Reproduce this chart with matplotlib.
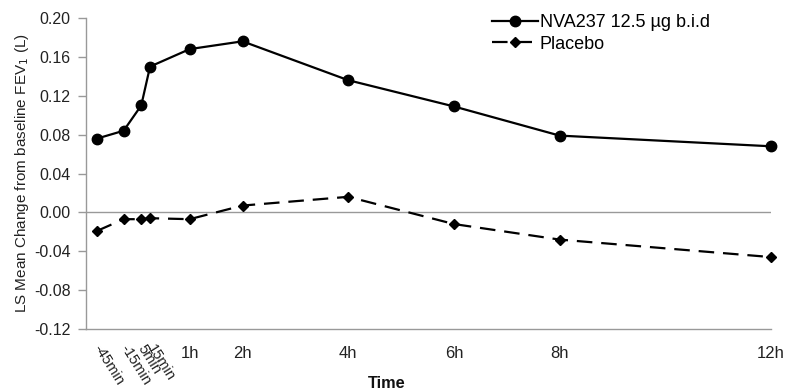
import matplotlib
matplotlib.use("Agg")
import matplotlib.pyplot as plt

plt.rcParams['font.family'] = ['Liberation Sans', 'DejaVu Sans']

times = [-0.75, -0.25, 5/60, 0.25, 1, 2, 4, 6, 8, 12]
tick_labels = ['-45min', '-15min', '5min', '15min', '1h', '2h', '4h', '6h', '8h', '12h']
nva = [0.076, 0.084, 0.110, 0.150, 0.168, 0.176, 0.136, 0.109, 0.079, 0.068]
placebo = [-0.019, -0.007, -0.007, -0.006, -0.007, 0.007, 0.016, -0.012, -0.028, -0.046]
yticks = [-0.12, -0.08, -0.04, 0.00, 0.04, 0.08, 0.12, 0.16, 0.20]

W, H = 788, 392
fig = plt.figure(figsize=(W / 100, H / 100), dpi=100)
ax = fig.add_axes([86 / W, 1 - 329 / H, 685 / W, 311 / H])

ax.axhline(0, color='#999999', lw=1.0, zorder=1)
ax.plot(times, nva, color='black', lw=1.6, marker='o', ms=7.5,
        label='NVA237 12.5 µg b.i.d', zorder=3, clip_on=False)
ax.plot(times, placebo, color='black', lw=1.6, ls=(0, (7, 4)), marker='D', ms=5,
        label='Placebo', zorder=3, clip_on=False)

ax.set_xlim(-0.962, 11.96)
ax.set_ylim(-0.12, 0.20)
ax.set_yticks(yticks)
ax.set_yticklabels([f'{v:.2f}' for v in yticks], fontsize=11.5, color='#222222')
ax.set_xticks(times)
ax.set_xticklabels(tick_labels, fontsize=12, color='#222222')
for lab, t in zip(ax.get_xticklabels(), tick_labels):
    if 'min' in t:
        lab.set_rotation(-58)
        lab.set_rotation_mode('anchor')
        lab.set_ha('left')
        lab.set_va('center')
        lab.set_fontsize(10.5)
ax.tick_params(axis='x', length=0, pad=12)
ax.tick_params(axis='y', length=6, color='#999999', width=1, pad=5)

for s in ['top', 'right']:
    ax.spines[s].set_visible(False)
for s in ['left', 'bottom']:
    ax.spines[s].set_color('#999999')
    ax.spines[s].set_linewidth(1.0)

fig.text(387 / W, 1 - 384 / H, 'Time', fontsize=11.7, fontweight='bold',
         ha='center', va='center', color='#111111')
ax.set_ylabel('LS Mean Change from baseline FEV$_1$ (L)', fontsize=11, color='#222222')
ax.yaxis.set_label_coords(-55 / 685, 0.5)

ax.legend(loc='upper left', bbox_to_anchor=(492 / W, 1 - 14 / H), bbox_transform=fig.transFigure,
          frameon=False, fontsize=13, handlelength=2.55, handletextpad=0.1,
          labelspacing=0.25, borderaxespad=0, borderpad=0)

fig.savefig('out.png', dpi=100)
